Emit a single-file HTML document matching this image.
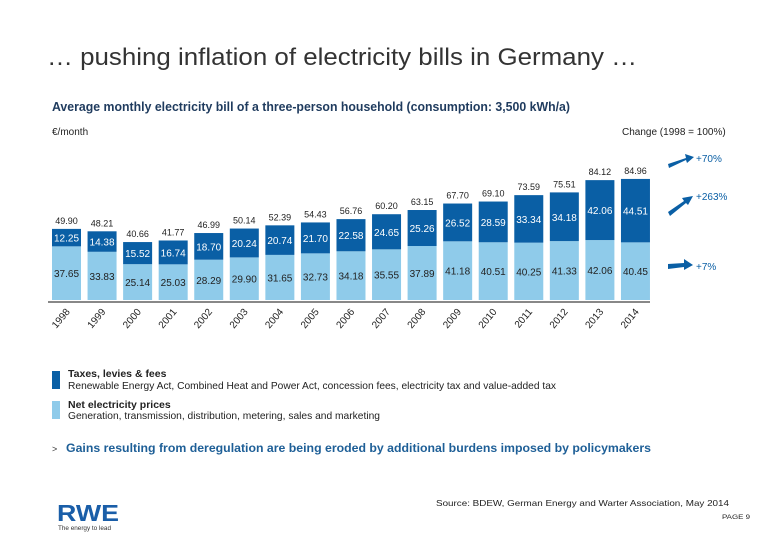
<!DOCTYPE html>
<html><head><meta charset="utf-8">
<style>
body{margin:0;background:#fff;}
svg{display:block;font-family:"Liberation Sans",Arial,sans-serif;}
</style></head>
<body>
<svg id="c" width="780" height="540" viewBox="0 0 780 540">
<text x="47" y="65" font-size="24" textLength="590" lengthAdjust="spacingAndGlyphs" fill="#333">… pushing inflation of electricity bills in Germany …</text>
<text x="52" y="111" font-size="12.5" font-weight="bold" textLength="518" lengthAdjust="spacingAndGlyphs" fill="#1f3b5e">Average monthly electricity bill of a three-person household (consumption: 3,500 kWh/a)</text>
<text x="52" y="135" font-size="10" fill="#222">€/month</text>
<text x="622" y="135" font-size="10" fill="#222">Change (1998 = 100%)</text>
<g id="bars"></g>
<line x1="48" y1="302" x2="650" y2="302" stroke="#111" stroke-width="1"/>
<g>
<polygon points="668,164 686,158 685,154 694,157 687,163 686,160 669,168" fill="#0a5fa5"/>
<text x="696" y="162" font-size="10" fill="#0a5fa5">+70%</text></g>
<g>
<polygon points="668,212 684,201 682,198 693,196 688,205 686,203 670,216" fill="#0a5fa5"/>
<text x="696" y="200" font-size="10" fill="#0a5fa5">+263%</text></g>
<g>
<polygon points="668,264 684,263 684,259 693,265 684,270 684,267 668,269" fill="#0a5fa5"/>
<text x="696" y="270" font-size="10" fill="#0a5fa5">+7%</text></g>
<rect x="52" y="371" width="8" height="18" fill="#0a5fa5"/>
<text x="68" y="377" font-size="10.5" font-weight="bold" fill="#222">Taxes, levies &amp; fees</text>
<text x="68" y="389" font-size="10.5" textLength="488" lengthAdjust="spacingAndGlyphs" fill="#222">Renewable Energy Act, Combined Heat and Power Act, concession fees, electricity tax and value-added tax</text>
<rect x="52" y="401" width="8" height="18" fill="#8fcbea"/>
<text x="68" y="408" font-size="10.5" font-weight="bold" fill="#222">Net electricity prices</text>
<text x="68" y="419" font-size="10.5" textLength="312" lengthAdjust="spacingAndGlyphs" fill="#222">Generation, transmission, distribution, metering, sales and marketing</text>
<text x="52" y="452" font-size="9" fill="#333">&gt;</text>
<text x="66" y="452" font-size="12" font-weight="bold" textLength="585" lengthAdjust="spacingAndGlyphs" fill="#1e5f97">Gains resulting from deregulation are being eroded by additional burdens imposed by policymakers</text>
<text x="57" y="521" font-size="23" font-weight="bold" textLength="62" lengthAdjust="spacingAndGlyphs" fill="#1a5ea8">RWE</text>
<text x="58" y="530" font-size="6" textLength="53" lengthAdjust="spacingAndGlyphs" fill="#333">The energy to lead</text>
<text x="436" y="506" font-size="8.5" textLength="293" lengthAdjust="spacingAndGlyphs" fill="#222">Source: BDEW, German Energy and Warter Association, May 2014</text>
<text x="722" y="519" font-size="6.5" textLength="28" lengthAdjust="spacingAndGlyphs" fill="#222">PAGE 9</text>
</svg>
<script>
const years=["1998","1999","2000","2001","2002","2003","2004","2005","2006","2007","2008","2009","2010","2011","2012","2013","2014"];
const netPrices=[37.65,33.83,25.14,25.03,28.29,29.90,31.65,32.73,34.18,35.55,37.89,41.18,40.51,40.25,41.33,42.06,40.45];
const taxes=[12.25,14.38,15.52,16.74,18.70,20.24,20.74,21.70,22.58,24.65,25.26,26.52,28.59,33.34,34.18,42.06,44.51];
const totals=[49.90,48.21,40.66,41.77,46.99,50.14,52.39,54.43,56.76,60.20,63.15,67.70,69.10,73.59,75.51,84.12,84.96];
const NS="http://www.w3.org/2000/svg";
const g=document.getElementById('bars');
const x0=52,pitch=35.56,bw=29,base=300,k=1.425;
const xs=i=>x0+i*pitch;
const ys=v=>v*k;
function mk(t,a){const e=document.createElementNS(NS,t);for(const n in a)e.setAttribute(n,a[n]);return e;}
years.forEach((yr,i)=>{
  const x=xs(i),hn=ys(netPrices[i]),ht=ys(taxes[i]);
  const r1=mk('rect',{x:x,y:base-hn,width:bw,height:hn,fill:'#8fcbea'});
  
  
  g.appendChild(r1);
  const r2=mk('rect',{x:x,y:base-hn-ht,width:bw,height:ht,fill:'#0a5fa5'});
  
  
  g.appendChild(r2);
  const t1=mk('text',{x:x+bw/2,y:base-hn/2+4,'font-size':10,'text-anchor':'middle',fill:'#222'});
  t1.textContent=netPrices[i].toFixed(2);
  
  
  g.appendChild(t1);
  const t2=mk('text',{x:x+bw/2,y:base-hn-ht/2+4,'font-size':10,'text-anchor':'middle',fill:'#fff'});
  t2.textContent=taxes[i].toFixed(2);
  
  
  g.appendChild(t2);
  const t3=mk('text',{x:x+bw/2,y:base-ys(totals[i])-5,'font-size':9,'text-anchor':'middle',fill:'#222'});
  t3.textContent=totals[i].toFixed(2);
  
  
  g.appendChild(t3);
  const cx=x+bw/2+4,cy=312;
  const t4=mk('text',{x:cx,y:cy,'font-size':10,'text-anchor':'end',fill:'#222',transform:'rotate(-50 '+cx+' '+cy+')'});
  t4.textContent=yr;
  
  
  g.appendChild(t4);
});
</script>
</body></html>
